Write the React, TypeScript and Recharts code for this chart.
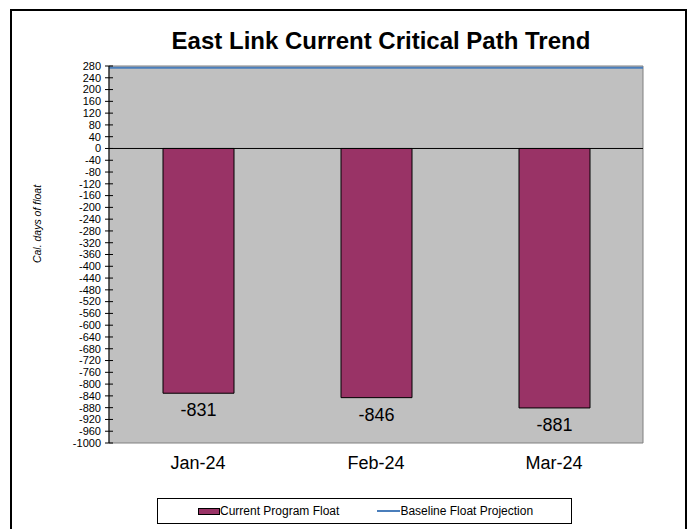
import {
  ComposedChart,
  Bar,
  XAxis,
  YAxis,
  ReferenceLine,
  ReferenceArea,
  LabelList,
} from 'recharts';

const months = ['Jan-24', 'Feb-24', 'Mar-24'];
const currentFloat = [-831, -846, -881];
const baselineFloat = [274, 274, 274];
const yTicks = [
  280, 240, 200, 160, 120, 80, 40, 0, -40, -80, -120, -160, -200, -240, -280,
  -320, -360, -400, -440, -480, -520, -560, -600, -640, -680, -720, -760,
  -800, -840, -880, -920, -960, -1000,
];

const FONT = 'Arial, "Liberation Sans", sans-serif';

const data = months.map((m, i) => ({
  month: m,
  current: currentFloat[i],
  baseline: baselineFloat[i],
}));

function YTick(props: any) {
  const { x, y, payload } = props;
  return (
    <g>
      <line x1={x - 4} x2={x + 4} y1={y} y2={y} stroke="#000" />
      <text
        x={x - 8}
        y={y}
        dy="0.35em"
        textAnchor="end"
        fontSize={11}
        fontFamily={FONT}
        fill="#000"
      >
        {payload.value}
      </text>
    </g>
  );
}

function BarValue(props: any) {
  const { x, y, width, height, value } = props;
  const bottom = Math.max(y, y + height);
  return (
    <text
      x={x + width / 2}
      y={bottom + 23}
      textAnchor="middle"
      fontSize={18}
      fontFamily={FONT}
      fill="#000"
    >
      {value}
    </text>
  );
}

export default function App() {
  return (
    <div
      style={{
        position: 'absolute',
        left: 0,
        top: 0,
        width: 691,
        height: 529,
        background: '#fff',
        overflow: 'hidden',
        fontFamily: FONT,
      }}
    >
      <div
        style={{
          position: 'absolute',
          left: 10,
          top: 9,
          width: 673,
          height: 540,
          border: '2px solid #000',
        }}
      />
      <div
        style={{
          position: 'absolute',
          left: 0,
          top: 27,
          width: 762,
          textAlign: 'center',
          fontSize: 24,
          fontWeight: 'bold',
          color: '#000',
        }}
      >
        East Link Current Critical Path Trend
      </div>
      <div style={{ position: 'absolute', left: 0, top: 0 }}>
        <ComposedChart
          width={691}
          height={529}
          data={data}
          margin={{ top: 66, right: 48, bottom: 56, left: 0 }}
        >
          <XAxis
            dataKey="month"
            axisLine={false}
            tickLine={false}
            tickSize={0}
            tickMargin={13}
            height={30}
            tick={{ fontSize: 18, fill: '#000', fontFamily: FONT }}
          />
          <YAxis
            type="number"
            domain={[-1000, 280]}
            ticks={yTicks}
            interval={0}
            width={109}
            axisLine={{ stroke: '#000' }}
            tickLine={false}
            tickSize={0}
            tickMargin={0}
            tick={<YTick />}
            label={{
              content: () => (
                <text
                  x={41}
                  y={224}
                  transform="rotate(-90 41 224)"
                  textAnchor="middle"
                  fontSize={10.5}
                  fontStyle="italic"
                  fontFamily={FONT}
                  fill="#000"
                >
                  Cal. days of float
                </text>
              ),
            }}
          />
          <ReferenceArea
            y1={-1000}
            y2={280}
            fill="#C0C0C0"
            fillOpacity={1}
            stroke="#808080"
            ifOverflow="extendDomain"
          />
          <Bar
            dataKey="current"
            fill="#993366"
            stroke="#000"
            strokeWidth={1}
            barSize={71}
            isAnimationActive={false}
          >
            <LabelList dataKey="current" content={<BarValue />} />
          </Bar>
          <ReferenceLine y={0} stroke="#000" strokeWidth={1} />
          <ReferenceLine
            y={baselineFloat[0]}
            stroke="#4A7EBB"
            strokeWidth={2}
          />
        </ComposedChart>
      </div>
      <div
        style={{
          position: 'absolute',
          left: 157,
          top: 498,
          width: 413,
          height: 24,
          border: '1px solid #000',
          display: 'flex',
          alignItems: 'center',
          fontSize: 12,
          color: '#000',
        }}
      >
        <span
          style={{
            marginLeft: 40,
            width: 20,
            height: 5,
            background: '#993366',
            border: '1px solid #000',
          }}
        />
        <span>Current Program Float</span>
        <span
          style={{
            marginLeft: 38,
            width: 23,
            height: 2,
            background: '#4A7EBB',
          }}
        />
        <span>Baseline Float Projection</span>
      </div>
    </div>
  );
}
